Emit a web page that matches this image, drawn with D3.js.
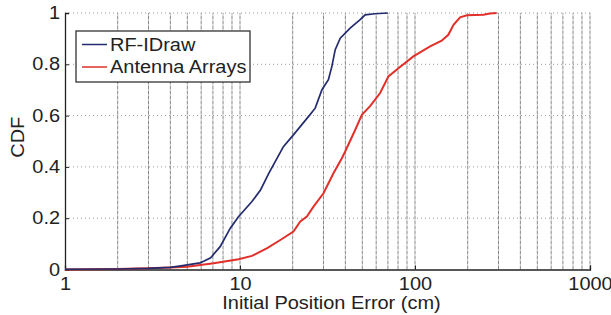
<!DOCTYPE html>
<html>
<head>
<meta charset="utf-8">
<script src="https://cdn.jsdelivr.net/npm/d3@7"></script>
<style>
  body { margin: 0; background: #fff; }
  svg text { font-family: "Liberation Sans", Arial, sans-serif; fill: #222; }
</style>
</head>
<body>
<div id="chart"></div>
<script>
// values (error in cm, CDF)
let rfErr = [1, 2, 3, 4, 4.6, 5, 5.9, 6.2, 6.8, 7.7, 8.8, 9.8, 11.7, 13.1, 14.6, 16.3, 17.7, 20.2, 24.6, 26.9, 29.4, 32, 33.5, 35, 37.4, 42.6, 48.6, 51.9, 59, 70];
let rfCdf = [0.001, 0.002, 0.004, 0.008, 0.014, 0.018, 0.026, 0.032, 0.046, 0.089, 0.161, 0.206, 0.265, 0.31, 0.375, 0.434, 0.479, 0.525, 0.596, 0.629, 0.701, 0.74, 0.792, 0.857, 0.902, 0.941, 0.974, 0.993, 0.997, 1];
let antErr = [1, 2, 2.94, 4, 4.98, 7.07, 9.82, 11.7, 14.3, 17, 20.2, 22.1, 24.1, 26.3, 30, 34.2, 38.2, 39.9, 45.5, 49.7, 55.4, 63.2, 70.5, 80.4, 97.9, 122, 142, 155, 166, 181, 198, 246, 268, 293];
let antCdf = [0, 0.002, 0.005, 0.008, 0.011, 0.024, 0.04, 0.053, 0.083, 0.115, 0.148, 0.187, 0.206, 0.245, 0.297, 0.375, 0.434, 0.46, 0.544, 0.603, 0.637, 0.688, 0.753, 0.785, 0.831, 0.87, 0.892, 0.915, 0.954, 0.983, 0.991, 0.993, 0.998, 1];

let seriesNames = ['RF-IDraw', 'Antenna Arrays'];
let seriesColors = ['#222b6d', '#e1302a'];
let xTicks = [1, 10, 100, 1000];
let yTicks = [0, 0.2, 0.4, 0.6, 0.8, 1];

let W = 611, H = 315;
let m = {left: 65, right: 21, top: 13, bottom: 45.5};
let fs = '17.5px';

let svg = d3.select('#chart').append('svg')
	.attr('width', W)
	.attr('height', H);

let x = d3.scaleLog().domain([1, 1000]).range([m.left, W - m.right]);
let y = d3.scaleLinear().domain([0, 1]).range([H - m.bottom, m.top]);

// vertical grid on every log minor tick
let minor = [];
[1, 10, 100].forEach(d => {
	for (let k = 2; k <= 10; k++) minor.push(d * k);
});
svg.append('g').selectAll('line')
	.data(minor)
	.enter()
	.append('line')
	.attr('x1', d => x(d)).attr('x2', d => x(d))
	.attr('y1', y(0)).attr('y2', y(1))
	.attr('stroke', '#7a7a7a')
	.attr('stroke-width', 0.9)
	.attr('stroke-dasharray', '4,1');

// horizontal dotted grid
svg.append('g').selectAll('line')
	.data(yTicks.filter(d => d > 0))
	.enter()
	.append('line')
	.attr('x1', x(1)).attr('x2', x(1000))
	.attr('y1', d => y(d)).attr('y2', d => y(d))
	.attr('stroke', '#999')
	.attr('stroke-width', 1)
	.attr('stroke-dasharray', '1,3');

// axes
let xAxis = svg.append('g')
	.attr('transform', `translate(0,${y(0)})`)
	.call(d3.axisBottom(x).tickValues(xTicks).tickFormat(d3.format('d')).tickSize(-4).tickPadding(8));
let yAxis = svg.append('g')
	.attr('transform', `translate(${x(1)},0)`)
	.call(d3.axisLeft(y).tickValues(yTicks).tickFormat(d => d === 0 || d === 1 ? d : d3.format('.1f')(d)).tickSize(-4).tickPadding(5));
[xAxis, yAxis].forEach(a => {
	a.select('.domain').attr('stroke', '#222').attr('stroke-width', 1.3);
	a.selectAll('.tick line').attr('stroke', '#222');
	a.selectAll('.tick text').style('font-size', fs).attr('fill', '#222');
});

// curves
let line = d3.line()
	.x(d => x(d[0]))
	.y(d => y(d[1]));
let series = [d3.zip(rfErr, rfCdf), d3.zip(antErr, antCdf)];
svg.append('path')
	.datum(series[1])
	.attr('d', line)
	.attr('fill', 'none')
	.attr('stroke', seriesColors[1])
	.attr('stroke-width', 2);
svg.append('path')
	.datum(series[0])
	.attr('d', line)
	.attr('fill', 'none')
	.attr('stroke', seriesColors[0])
	.attr('stroke-width', 1.7);

// axis titles
svg.append('text')
	.attr('x', (x(1) + x(1000)) / 2 + 4)
	.attr('y', 309)
	.attr('text-anchor', 'middle')
	.style('font-size', fs)
	.text('Initial Position Error (cm)');
svg.append('text')
	.attr('transform', `translate(24,${y(0.5) - 4}) rotate(-90)`)
	.attr('text-anchor', 'middle')
	.style('font-size', fs)
	.text('CDF');

// legend
let lg = svg.append('g').attr('transform', 'translate(76,31)');
lg.append('rect')
	.attr('width', 174).attr('height', 51)
	.attr('fill', '#fff')
	.attr('stroke', '#333')
	.attr('stroke-width', 1.3);
seriesNames.forEach((n, i) => {
	let yy = 13.5 + i * 22.5;
	lg.append('line')
		.attr('x1', 6).attr('x2', 31)
		.attr('y1', yy).attr('y2', yy)
		.attr('stroke', seriesColors[i])
		.attr('stroke-width', 1.5);
	lg.append('text')
		.attr('x', 34).attr('y', yy + 6)
		.style('font-size', fs)
		.text(n);
});

// the original figure's lettering is a bit wider than Arial
svg.selectAll('text').each(function() {
	let len = this.getComputedTextLength();
	d3.select(this)
		.attr('textLength', len * 1.14)
		.attr('lengthAdjust', 'spacingAndGlyphs');
});
</script>
</body>
</html>
